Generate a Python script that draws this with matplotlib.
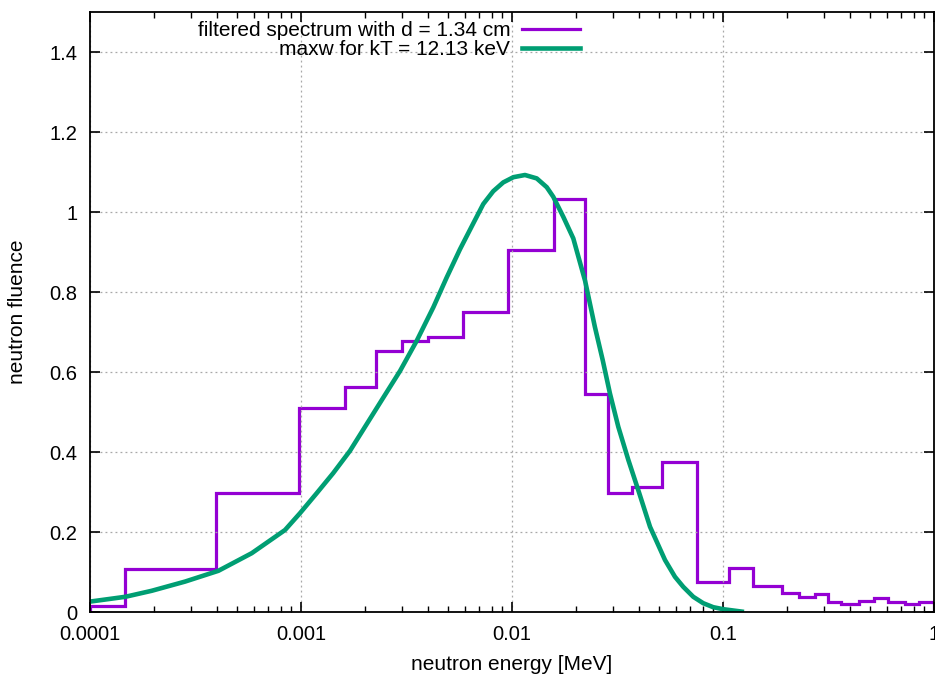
import matplotlib
matplotlib.use("Agg")
import matplotlib.pyplot as plt
from matplotlib.ticker import FixedLocator, FixedFormatter, LogLocator, NullFormatter

plt.rcParams['font.family'] = ['Liberation Sans', 'DejaVu Sans']

# filtered spectrum, histogram bins (MeV) and fluence per bin
bin_edges = [1.0e-4, 1.47e-4, 3.95e-4, 9.8e-4, 1.62e-3, 2.26e-3, 3.02e-3, 3.98e-3,
             5.87e-3, 9.57e-3, 0.0158, 0.0222, 0.0284, 0.0369, 0.0512, 0.0750,
             0.107, 0.139, 0.191, 0.230, 0.273, 0.313, 0.362, 0.442, 0.520,
             0.607, 0.730, 0.845, 1.0]
fluence = [0.014, 0.107, 0.297, 0.51, 0.562, 0.653, 0.678, 0.688, 0.749, 0.905,
           1.0325, 0.544, 0.297, 0.312, 0.375, 0.074, 0.111, 0.066, 0.047, 0.0375,
           0.044, 0.024, 0.019, 0.028, 0.034, 0.025, 0.019, 0.026]

# maxwellian curve, points
maxw_e = [1.0e-4, 1.47e-4, 1.96e-4, 2.82e-4, 4.06e-4, 5.84e-4, 8.40e-4, 9.89e-4,
          1.187e-3, 1.42e-3, 1.707e-3, 2.05e-3, 2.455e-3, 2.95e-3, 3.535e-3, 4.24e-3,
          4.90e-3, 5.67e-3, 6.56e-3, 7.31e-3, 8.15e-3, 9.09e-3, 1.015e-2, 1.152e-2,
          1.310e-2, 1.461e-2, 1.569e-2, 1.750e-2, 1.952e-2, 2.22e-2, 2.47e-2, 2.69e-2,
          2.91e-2, 3.19e-2, 3.56e-2, 4.01e-2, 4.51e-2, 5.31e-2, 5.92e-2, 6.48e-2,
          7.23e-2, 8.06e-2, 8.99e-2, 0.1003, 0.1227]
maxw_f = [0.026, 0.038, 0.053, 0.076, 0.103, 0.147, 0.205, 0.247,
          0.297, 0.347, 0.403, 0.470, 0.536, 0.603, 0.678, 0.762,
          0.836, 0.907, 0.972, 1.020, 1.052, 1.074, 1.087, 1.0925,
          1.084, 1.062, 1.038, 0.988, 0.934, 0.828, 0.713, 0.63,
          0.547, 0.463, 0.38, 0.297, 0.213, 0.13, 0.088, 0.063,
          0.038, 0.022, 0.012, 0.007, 0.001]

fig = plt.figure(figsize=(9.35, 6.76), dpi=100)
ax = fig.add_axes([90 / 935, 1 - 612 / 676, 844 / 935, 600 / 676])

ax.stairs(fluence, bin_edges, color='#9400D3', lw=2.3,
          label='filtered spectrum with d = 1.34 cm')
ax.plot(maxw_e, maxw_f, color='#009E73', lw=3.3, solid_joinstyle='round',
        label='maxw for kT = 12.13 keV')

ax.set_xscale('log')
ax.set_xlim(1e-4, 1.0)
ax.set_ylim(0, 1.5)

xt = [1e-4, 1e-3, 1e-2, 1e-1, 1.0]
ax.xaxis.set_major_locator(FixedLocator(xt))
ax.xaxis.set_major_formatter(FixedFormatter(['0.0001', '0.001', '0.01', '0.1', '1']))
ax.xaxis.set_minor_locator(LogLocator(base=10, subs=range(2, 10)))
ax.xaxis.set_minor_formatter(NullFormatter())
yt = [0, 0.2, 0.4, 0.6, 0.8, 1.0, 1.2, 1.4]
ax.yaxis.set_major_locator(FixedLocator(yt))
ax.yaxis.set_major_formatter(FixedFormatter(['0', '0.2', '0.4', '0.6', '0.8', '1', '1.2', '1.4']))

ax.tick_params(which='major', direction='in', length=7, width=1.2, top=True, right=True,
               labelsize=14.5, pad=9, colors='black')
ax.tick_params(which='minor', direction='in', length=4, width=1.0, top=True, right=True)
ax.grid(True, which='major', color='#a8a8a8', linestyle=(0, (1.5, 2.5)), lw=0.9)
for s in ax.spines.values():
    s.set_linewidth(1.3)

ax.set_xlabel('neutron energy [MeV]', fontsize=15, labelpad=8)
ax.set_ylabel('neutron fluence', fontsize=15, labelpad=16)

ax.legend(loc='upper right', bbox_to_anchor=(0.593, 1.002), frameon=False, markerfirst=False,
          fontsize=15, handlelength=2.8, handletextpad=0.55, labelspacing=0.0, borderpad=0.0)

fig.savefig('out.png', dpi=100)
